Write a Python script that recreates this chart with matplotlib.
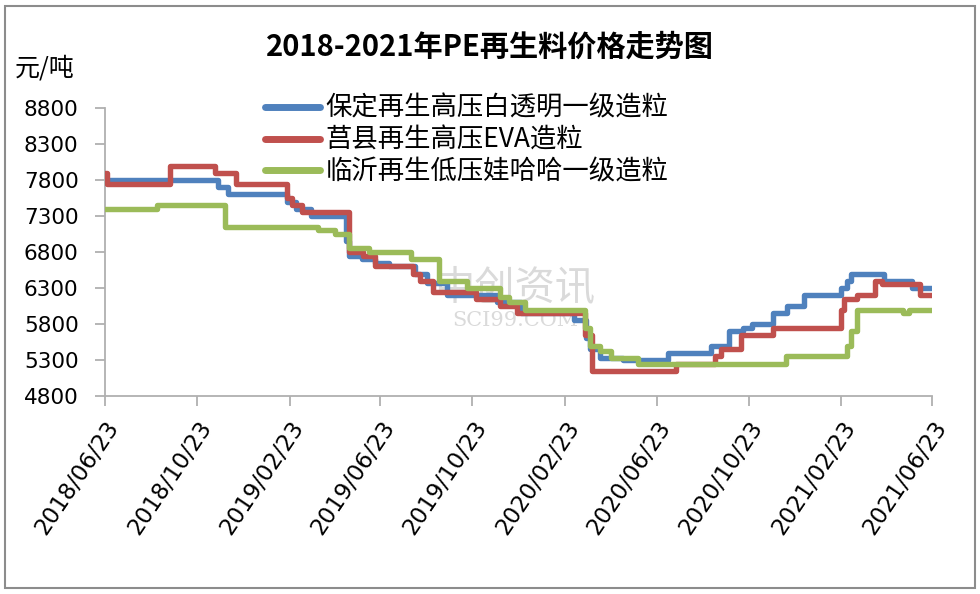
import matplotlib
matplotlib.use("Agg")
import matplotlib.pyplot as plt
import matplotlib.dates as mdates
from matplotlib.patches import Rectangle
import pandas as pd

plt.rcParams['font.family'] = ['Noto Sans CJK SC', 'DejaVu Sans']

# 保定再生高压白透明一级造粒
blue_dates = ['2018-06-23', '2018-11-20', '2018-12-03', '2019-02-19', '2019-03-03',
              '2019-03-23', '2019-05-09', '2019-05-12', '2019-05-30', '2019-06-16',
              '2019-07-04', '2019-08-08', '2019-08-24', '2019-09-19', '2019-11-24',
              '2019-12-27', '2020-03-05', '2020-03-22', '2020-03-27', '2020-04-09',
              '2020-05-10', '2020-07-08', '2020-09-03', '2020-09-27', '2020-10-16',
              '2020-10-28', '2020-11-24', '2020-12-13', '2021-01-04', '2021-02-23',
              '2021-03-02', '2021-03-08', '2021-04-21', '2021-05-28', '2021-06-23']
blue_vals = [7800, 7700, 7600, 7500, 7400,
             7300, 6950, 6750, 6700, 6650,
             6600, 6500, 6370, 6200, 6100,
             5950, 5850, 5600, 5450, 5330,
             5300, 5400, 5500, 5700, 5750,
             5800, 5950, 6050, 6200, 6300,
             6400, 6500, 6400, 6300, 6300]

# 莒县再生高压EVA造粒
red_dates = ['2018-06-23', '2018-06-26', '2018-09-17', '2018-11-16', '2018-12-13',
             '2019-02-19', '2019-02-26', '2019-03-11', '2019-05-12', '2019-05-31',
             '2019-06-16', '2019-08-05', '2019-08-14', '2019-09-01', '2019-10-28',
             '2019-11-28', '2019-12-21', '2020-03-20', '2020-03-29', '2020-07-19',
             '2020-09-09', '2020-09-16', '2020-10-13', '2020-11-24', '2021-02-23',
             '2021-02-27', '2021-03-15', '2021-04-09', '2021-04-18', '2021-06-07',
             '2021-06-23']
red_vals = [7900, 7750, 8000, 7900, 7750,
            7550, 7450, 7350, 6800, 6750,
            6600, 6500, 6400, 6250, 6150,
            6050, 5950, 5650, 5150, 5250,
            5350, 5450, 5650, 5750, 6000,
            6150, 6200, 6400, 6350, 6200,
            6200]

# 临沂再生低压娃哈哈一级造粒
green_dates = ['2018-06-23', '2018-08-31', '2018-11-29', '2019-04-01', '2019-04-24',
               '2019-05-12', '2019-06-08', '2019-08-02', '2019-09-09', '2019-10-16',
               '2019-11-28', '2019-12-11', '2019-12-31', '2020-03-20', '2020-03-27',
               '2020-04-09', '2020-04-23', '2020-05-30', '2020-12-11', '2021-03-02',
               '2021-03-08', '2021-03-15', '2021-05-16', '2021-05-23', '2021-06-23']
green_vals = [7400, 7450, 7150, 7100, 7050,
              6850, 6800, 6700, 6400, 6300,
              6180, 6100, 6000, 5750, 5500,
              5420, 5330, 5250, 5350, 5500,
              5700, 6000, 5950, 6000, 6000]

labels = ['保定再生高压白透明一级造粒', '莒县再生高压EVA造粒', '临沂再生低压娃哈哈一级造粒']
colors = ['#4f81bd', '#c0504d', '#9bbb59']
tick_dates = ['2018-06-23', '2018-10-23', '2019-02-23', '2019-06-23', '2019-10-23',
              '2020-02-23', '2020-06-23', '2020-10-23', '2021-02-23', '2021-06-23']
y_ticks = [4800, 5300, 5800, 6300, 6800, 7300, 7800, 8300, 8800]

fig = plt.figure(figsize=(9.8, 5.94), dpi=100)
ax = fig.add_axes([0.1071, 0.3333, 0.951 - 0.1071, 0.8182 - 0.3333])

series = [(blue_dates, blue_vals), (red_dates, red_vals), (green_dates, green_vals)]
for (d, v), lab, c in zip(series, labels, colors):
    ax.plot(pd.to_datetime(d), v, drawstyle='steps-post', color=c, lw=3.9,
            label=lab, solid_joinstyle='round', solid_capstyle='round', zorder=3)

ax.set_xlim(pd.Timestamp('2018-06-23'), pd.Timestamp('2021-06-23'))
ax.set_ylim(4800, 8800)
ax.set_yticks(y_ticks)
ax.set_xticks(pd.to_datetime(tick_dates))
ax.xaxis.set_major_formatter(mdates.DateFormatter('%Y/%m/%d'))
ax.tick_params(axis='y', labelsize=15.5, length=7, color='#b0b0b0', width=1.3, pad=12)
ax.tick_params(axis='x', labelsize=16.5, length=7, color='#b0b0b0', width=1.3, pad=8)
for lab in ax.get_yticklabels() + ax.get_xticklabels():
    lab.set_family('DejaVu Sans')
plt.setp(ax.get_xticklabels(), rotation=56, ha='right', rotation_mode='anchor')
for s in ['top', 'right']:
    ax.spines[s].set_visible(False)
for s in ['left', 'bottom']:
    ax.spines[s].set_color('#b0b0b0')
    ax.spines[s].set_linewidth(1.3)

leg = ax.legend(loc='upper left', bbox_to_anchor=(265 / 980, 1 - 95 / 594),
                bbox_transform=fig.transFigure, frameon=False, fontsize=19,
                handlelength=2.1, handletextpad=0.2, labelspacing=0.18,
                borderpad=0, borderaxespad=0)
for line in leg.get_lines():
    line.set_linewidth(5)
    line.set_solid_capstyle('round')

# watermark, under the lines
ax.text(515 / 980, 1 - 288 / 594, '中创资讯', fontsize=29, color='#dadada', ha='center',
        va='center', transform=fig.transFigure, zorder=1)
ax.text(515 / 980, 1 - 320 / 594, 'SCI99.COM', fontsize=15, color='#dadada', ha='center',
        va='center', family='DejaVu Serif', transform=fig.transFigure, zorder=1)

fig.text(0.5, 1 - 47 / 594, '2018-2021年PE再生料价格走势图', fontsize=21,
         fontweight='bold', ha='center', va='center')
fig.text(15 / 980, 1 - 68 / 594, '元/吨', fontsize=18, ha='left', va='center')

fig.patches.append(Rectangle((5 / 980, 6 / 594), 970 / 980, 582 / 594,
                             transform=fig.transFigure, fill=False,
                             edgecolor='#8c8c8c', lw=1.5))

fig.savefig('out.png', dpi=100)
